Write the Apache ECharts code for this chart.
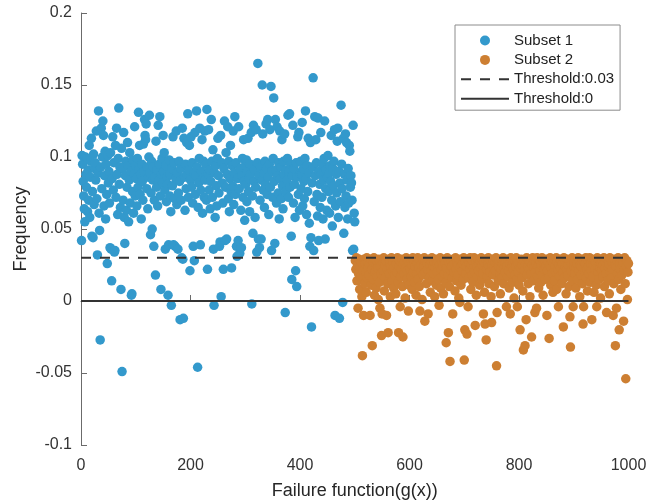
<!DOCTYPE html>
<html><head><meta charset="utf-8">
<script src="https://cdn.jsdelivr.net/npm/echarts@6/dist/echarts.min.js"></script>
<style>html,body{margin:0;padding:0;background:#fff}#c{width:647px;height:503px}</style>
</head><body><div id="c"></div><script>
// Subset 1: samples x = 1..500
const subset1Start = 1;
const subset1Y = [
0.042,0.101,0.095,0.083,0.073,0.064,0.055,0.100,0.088,0.079,0.099,0.062,0.091,0.070,0.108,0.058,0.086,0.097,0.113,0.045,0.076,0.044,0.102,0.067,0.092,
0.096,0.084,0.118,0.071,0.032,0.089,0.132,0.061,0.049,-0.027,0.093,0.120,0.078,0.100,0.125,0.115,0.066,0.087,0.104,0.057,0.095,0.074,0.026,0.101,0.082,
0.090,0.068,0.037,0.103,0.036,0.014,0.085,0.114,0.077,0.096,0.034,0.035,0.108,0.072,0.120,0.088,0.060,0.099,0.134,0.081,0.093,0.065,0.008,0.106,-0.049,
0.092,0.070,0.117,0.058,0.040,0.087,0.097,0.063,0.079,0.110,0.094,0.055,0.084,0.103,0.068,0.090,0.004,0.005,0.076,0.098,0.061,0.088,0.121,0.073,0.094,
0.085,0.066,0.099,0.079,0.131,0.092,0.108,0.074,0.088,0.057,0.095,0.083,0.070,0.109,0.090,0.126,0.115,0.112,0.123,0.078,0.093,0.064,0.086,0.100,0.129,
0.089,0.046,0.075,0.097,0.050,0.084,0.093,0.038,0.070,0.086,0.018,0.111,0.079,0.091,0.066,0.122,0.084,0.095,0.128,0.073,0.008,0.088,0.099,0.082,0.115,
0.090,0.103,0.077,0.036,0.094,0.069,0.086,0.081,0.004,0.039,0.098,0.073,0.088,0.062,-0.003,0.092,0.080,0.114,0.039,0.096,0.071,0.038,0.085,0.118,0.067,
0.089,0.036,0.075,0.097,0.083,-0.013,0.092,0.070,0.030,0.120,0.029,-0.012,0.113,0.086,0.063,0.095,0.078,0.110,0.088,0.130,0.072,0.091,0.108,0.021,0.084,
0.114,0.079,0.096,0.068,0.038,0.089,0.028,0.117,0.074,0.087,0.132,0.093,-0.046,0.065,0.082,0.099,0.120,0.039,0.077,0.090,0.112,0.061,0.085,0.097,0.072,
0.118,0.084,0.095,0.070,0.133,0.022,0.088,0.119,0.077,0.091,0.064,0.083,0.126,0.097,0.072,0.105,0.036,-0.003,0.089,0.058,0.094,0.080,0.066,0.099,0.113,
0.087,0.075,0.038,0.041,0.115,0.003,0.096,0.082,0.068,0.022,0.092,0.125,0.042,0.079,0.103,0.043,0.088,0.121,0.071,0.097,0.062,0.085,0.108,0.076,0.023,
0.094,0.080,0.118,0.067,0.089,0.128,0.074,0.096,0.038,0.031,0.085,0.042,0.121,0.078,0.033,0.092,0.063,0.037,0.087,0.099,0.072,0.112,0.083,0.056,0.094,
0.081,0.098,0.069,0.090,0.113,0.076,0.085,0.062,0.095,0.088,0.117,-0.002,0.073,0.047,0.122,0.083,0.091,0.058,0.079,0.119,0.034,0.096,0.165,0.043,0.087,
0.037,0.070,0.093,0.043,0.084,0.150,0.116,0.077,0.089,0.065,0.097,0.081,0.123,0.092,0.074,0.126,0.086,0.060,0.095,0.119,0.079,0.149,0.035,0.090,0.072,
0.099,0.141,0.083,0.040,0.126,0.091,0.068,0.121,0.087,0.075,0.096,0.057,0.118,0.085,0.093,0.071,0.112,0.080,0.064,0.097,0.088,0.116,-0.008,0.076,0.091,
0.084,0.099,0.129,0.072,0.090,0.130,0.079,0.095,0.045,0.015,0.087,0.122,0.068,0.092,0.081,0.058,0.021,0.096,0.010,0.086,0.114,0.074,0.117,0.063,0.089,
0.097,0.078,0.088,0.124,0.066,0.092,0.083,0.071,0.099,0.132,0.085,0.060,0.094,0.076,0.113,0.089,0.054,0.038,0.110,0.044,-0.018,0.082,0.093,0.155,0.035,
0.069,0.128,0.087,0.112,0.096,0.074,0.059,0.127,0.042,0.090,0.081,0.065,0.117,0.088,0.072,0.095,0.057,0.084,0.099,0.125,0.043,0.078,0.091,0.063,0.086,
0.101,0.076,0.089,0.061,0.094,0.083,0.115,0.070,0.052,0.092,0.080,0.097,0.119,-0.010,0.066,0.088,0.075,0.111,0.120,0.058,0.090,-0.012,0.082,0.069,0.136,
0.095,0.078,-0.001,0.113,0.047,0.088,0.065,0.116,0.073,0.110,0.084,0.057,0.092,0.068,0.108,0.104,0.079,0.087,0.082,0.070,0.035,0.122,0.036,0.061,0.055
];
// Subset 2: samples x = 501..1000
const subset2Start = 501;
const subset2Y = [
0.028,0.022,0.030,0.014,0.025,-0.005,0.019,0.029,0.008,0.024,0.017,0.027,0.003,-0.038,0.021,-0.010,0.029,0.012,0.026,0.020,0.006,0.030,0.016,0.023,0.027,
0.018,0.025,-0.010,0.029,0.011,0.022,-0.031,0.027,0.015,0.030,0.004,0.020,0.026,0.009,0.028,0.017,0.023,0.001,0.029,0.013,-0.005,0.024,0.019,-0.024,-0.009,
0.027,0.021,0.030,0.007,0.025,0.016,0.028,-0.010,0.022,0.012,-0.022,0.029,0.019,0.026,0.003,0.024,0.030,0.014,0.021,0.027,0.009,0.023,0.018,0.029,0.005,
0.026,0.020,0.030,0.013,-0.022,0.024,0.028,-0.004,0.017,0.022,0.029,0.010,-0.025,0.025,0.019,0.027,0.002,0.023,0.030,0.015,0.021,0.028,-0.007,0.011,0.026,
0.022,0.029,0.017,0.025,0.008,0.030,0.020,0.027,0.013,0.024,0.028,0.004,0.019,0.026,0.030,0.015,0.023,0.010,-0.007,0.028,0.021,0.025,0.001,0.029,0.018,
0.024,0.030,-0.014,0.020,0.027,0.012,0.026,0.022,-0.009,0.029,0.016,0.025,0.006,0.028,0.021,0.030,0.014,0.024,0.019,0.027,0.003,0.023,0.029,0.011,0.026,
0.020,0.028,0.015,-0.003,0.025,0.030,0.009,0.022,0.027,0.017,0.024,0.005,0.029,0.019,0.026,0.013,-0.029,0.023,0.030,0.018,-0.022,0.027,0.010,-0.042,0.021,
0.028,0.024,0.016,-0.009,0.029,0.020,0.026,0.007,0.030,0.022,0.014,0.027,0.018,0.025,0.002,0.029,-0.001,0.023,0.011,0.028,0.021,0.026,0.015,0.030,-0.041,
-0.020,0.027,0.019,0.024,-0.023,0.029,-0.004,0.016,0.026,0.022,0.030,0.008,0.025,0.018,0.028,0.013,0.023,0.030,0.020,-0.017,0.027,0.004,0.024,0.017,0.029,
0.021,0.026,0.011,0.028,0.023,0.030,0.015,0.025,0.019,-0.009,0.027,0.006,-0.016,0.029,-0.027,0.022,0.017,0.026,0.030,0.012,0.024,0.020,0.028,0.003,-0.015,
0.025,0.029,0.018,0.023,0.010,0.027,0.021,0.030,-0.045,-0.008,0.026,0.014,0.024,0.028,0.019,0.005,0.022,0.029,0.016,0.026,0.030,0.012,0.023,0.027,0.020,
0.028,-0.004,0.024,0.017,0.029,0.021,0.009,0.026,-0.009,0.030,0.019,0.025,0.013,0.027,0.022,0.002,0.028,0.018,0.024,0.030,0.015,-0.004,0.026,0.020,0.011,
0.027,-0.020,0.023,0.029,0.016,0.025,0.007,-0.034,0.028,0.021,-0.031,0.026,-0.013,0.030,0.018,0.024,0.012,0.028,0.022,0.003,0.027,0.019,-0.025,0.025,0.030,
0.014,0.023,0.028,-0.008,0.020,0.026,-0.005,0.030,0.017,0.024,0.009,0.029,0.021,0.027,0.013,0.025,0.030,0.018,0.004,0.026,0.022,0.028,0.015,0.024,0.029,
-0.010,0.021,0.027,0.016,-0.026,0.025,0.030,0.011,0.023,0.028,0.019,0.006,0.026,0.029,0.014,0.024,0.020,0.030,0.008,0.027,0.022,-0.004,0.025,0.017,0.029,
0.023,0.028,0.012,0.026,0.020,-0.018,0.030,0.016,0.024,0.027,0.005,0.022,0.029,0.018,0.025,0.010,0.028,-0.011,-0.032,0.021,0.026,0.030,0.014,-0.004,0.024,
0.027,0.019,0.029,0.009,0.023,0.026,0.015,0.030,0.021,0.028,0.003,0.025,0.018,0.024,0.029,0.012,-0.016,-0.004,0.027,0.020,0.026,0.030,0.016,0.022,0.007,
0.028,0.024,0.019,0.030,0.013,0.026,0.021,-0.013,0.029,0.017,0.025,0.006,0.028,0.022,0.027,0.011,-0.004,0.030,0.020,0.024,0.015,0.029,0.023,0.002,0.026,
0.021,0.028,0.017,0.025,0.030,0.010,0.023,0.027,0.019,-0.008,0.029,0.014,0.024,0.026,0.005,0.030,0.020,0.028,0.016,0.022,0.027,-0.010,0.012,0.029,0.025,
-0.031,0.024,-0.005,0.028,0.019,0.030,0.015,-0.020,0.026,0.022,0.008,0.029,0.018,0.025,0.027,-0.014,0.021,0.030,0.012,-0.054,0.024,0.028,0.001,0.020,0.026
];
const thresholdX = [0, 1000];
const threshold1 = 0.03;
const threshold0 = 0;
const seriesNames = ['Subset 1', 'Subset 2', 'Threshold:0.03', 'Threshold:0'];

const FONT = '"Liberation Sans", Arial, Helvetica, sans-serif';
const chart = echarts.init(document.getElementById('c'), null, {renderer: 'canvas'});
const axisCommon = {
  axisLine: {show: true, lineStyle: {color: '#6b6b6b', width: 1}},
  axisTick: {show: true, inside: true, length: 6, lineStyle: {color: '#6b6b6b'}},
  splitLine: {show: false},
  nameMoveOverlap: false,
  nameTextStyle: {fontFamily: FONT, fontSize: 18, color: '#262626'}
};
chart.setOption({
  animation: false,
  backgroundColor: '#fff',
  grid: {left: 81, top: 13, right: 18.5, bottom: 58, containLabel: false, outerBoundsMode: 'none'},
  legend: {
    orient: 'vertical', left: 455, top: 25,
    padding: [8, 6, 4, 5],
    itemWidth: 48, itemHeight: 10, itemGap: 4.4,
    borderColor: '#8c8c8c', borderWidth: 1, backgroundColor: '#fff',
    textStyle: {fontFamily: FONT, fontSize: 15, color: '#222', lineHeight: 14},
    data: [
      {name: seriesNames[0], icon: 'circle'},
      {name: seriesNames[1], icon: 'circle'},
      {name: seriesNames[2], itemStyle: {opacity: 0}},
      {name: seriesNames[3], itemStyle: {opacity: 0}}
    ]
  },
  xAxis: Object.assign({}, axisCommon, {
    type: 'value', min: 0, max: 1000, interval: 200,
    name: 'Failure function(g(x))', nameLocation: 'middle', nameGap: 37,
    axisLabel: {fontFamily: FONT, fontSize: 16, color: '#333', margin: 13, formatter: v => String(v)}
  }),
  yAxis: Object.assign({}, axisCommon, {
    type: 'value', min: -0.1, max: 0.2, interval: 0.05,
    name: 'Frequency', nameLocation: 'middle', nameGap: 51,
    axisLabel: {fontFamily: FONT, fontSize: 16, color: '#333', margin: 9}
  }),
  series: [
    {name: seriesNames[0], type: 'scatter', symbolSize: 9.5, z: 2,
     itemStyle: {color: '#3399cc', opacity: 1},
     data: subset1Y.map((y, i) => [subset1Start + i, y])},
    {name: seriesNames[1], type: 'scatter', symbolSize: 9.5, z: 2,
     itemStyle: {color: '#cd7f32', opacity: 1},
     data: subset2Y.map((y, i) => [subset2Start + i, y])},
    {name: seriesNames[2], type: 'line', symbol: 'none', z: 5, silent: true,
     lineStyle: {color: '#333', width: 2, type: [10, 9]},
     itemStyle: {color: '#333'},
     data: thresholdX.map(x => [x, threshold1])},
    {name: seriesNames[3], type: 'line', symbol: 'none', z: 5, silent: true,
     lineStyle: {color: '#333', width: 2, type: 'solid'},
     itemStyle: {color: '#333'},
     data: thresholdX.map(x => [x, threshold0])}
  ]
});
</script></body></html>
